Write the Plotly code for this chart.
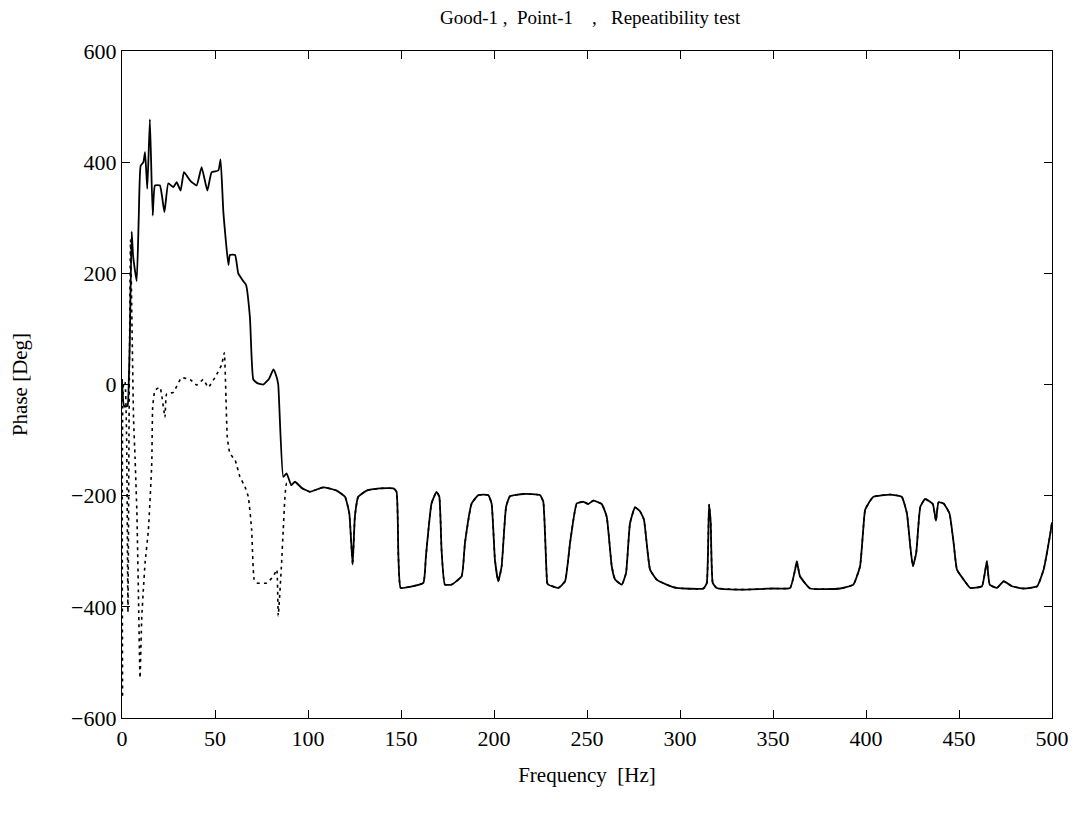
import plotly.graph_objects as go

# === Data ===
# Early part (0-90 Hz), the two measurements differ
freq_run1 = [0, 0.8, 1.5, 3.0, 3.6, 4.2, 5.2, 6.0, 7.9, 9.0, 10.0, 11.5, 12.4, 13.6,
             15.0, 16.5, 17.7, 20.4, 22.8, 24.9, 27.6, 29.4, 31.5, 33.3, 36.6, 40.1,
             42.8, 45.9, 48.2, 51.8, 53.0, 54.5, 57.2, 58.0, 60.8, 62.5, 65.2, 66.7,
             68.8, 70.6, 73.0, 76.0, 79.0, 81.4, 83.0, 84.0, 86.7, 88.5]
phase_run1 = [10, -35, -40, -38, 0, 80, 275, 230, 186, 300, 393, 400, 418, 352,
              477, 304, 358, 358, 310, 362, 355, 364, 349, 382, 367, 358,
              391, 349, 382, 385, 405, 310, 215, 233, 233, 200, 186, 179,
              120, 9, 2, 0, 10, 27, 15, 0, -166, -160]

freq_run2 = [0.3, 0.8, 1.6, 2.5, 3.2, 3.8, 4.6, 5.4, 6.2, 7.0, 8.0, 8.8, 9.7, 10.6,
             11.5, 12.4, 14.2, 16.0, 16.5, 17.7, 20.4, 23.1, 24.0, 27.6, 32.0, 36.6,
             40.1, 43.7, 46.4, 50.9, 53.6, 55.0, 55.9, 56.6, 58.0, 60.8, 63.4, 66.1,
             67.9, 69.7, 71.0, 72.4, 77.8, 81.4, 83.2, 84.0, 85.8, 86.7, 88.5]
phase_run2 = [-560, 0, 5, -100, -410, -60, 260, 100, -60, -130, -230, -370, -528, -420,
              -368, -321, -261, -142, -41, -11, -5, -59, -17, -14, 12, 9,
              -1, 9, -5, 18, 36, 57, -23, -95, -124, -136, -166, -184,
              -202, -261, -350, -357, -357, -345, -333, -416, -321, -261, -178]

# Common part (90-500 Hz), both runs lie on top of each other
freq_common = [91.0, 93.0, 96.6, 101.0, 108.2, 115.4, 119.9, 122.2, 124.0, 125.2, 127.0,
               131.5, 138.7, 145.9, 147.6, 148.6, 149.8, 154.8, 162.0, 163.4, 166.4,
               169.1, 170.6, 171.8, 173.6, 177.2, 182.6, 184.4, 188.0, 191.6, 196.9,
               198.7, 200.5, 202.3, 204.1, 206.5, 208.6, 215.8, 224.7, 226.5, 228.6,
               229.2, 234.6, 238.2, 240.9, 244.5, 248.1, 250.7, 253.4, 257.9, 260.6,
               263.3, 265.1, 268.7, 271.0, 273.1, 275.8, 278.5, 280.6, 283.9, 287.5,
               292.8, 298.2, 312.6, 314.4, 315.6, 316.5, 317.6, 319.7, 332.3, 350.2,
               359.2, 361.9, 362.8, 364.5, 370.0, 386.1, 393.2, 396.8, 399.5, 401.3,
               404.0, 413.0, 419.2, 422.0, 423.8, 425.2, 427.0, 429.2, 431.8, 435.9,
               437.6, 439.0, 441.7, 444.9, 447.1, 448.9, 452.5, 456.1, 462.3, 465.0,
               466.5, 470.4, 474.0, 478.5, 484.8, 492.0, 495.5, 499.1, 500.0]
phase_common = [-181, -175, -186, -193, -185, -191, -202, -232, -324, -238, -202,
                -191, -187, -187, -193, -309, -366, -364, -357, -309, -214,
                -193, -202, -297, -360, -360, -345, -285, -214, -199, -199,
                -214, -315, -354, -327, -220, -201, -197, -199, -211, -357,
                -360, -366, -354, -285, -214, -211, -215, -209, -215, -238,
                -327, -351, -360, -339, -250, -221, -228, -243, -333, -351,
                -360, -366, -367, -357, -216, -248, -357, -366, -369, -367,
                -366, -333, -318, -345, -367, -367, -360, -327, -226, -214,
                -202, -198, -202, -232, -291, -327, -303, -220, -206, -215,
                -245, -212, -214, -232, -285, -333, -351, -366, -363, -318,
                -360, -366, -354, -363, -367, -363, -333, -268, -248]

x_ticks = [0, 50, 100, 150, 200, 250, 300, 350, 400, 450, 500]
y_ticks = [-600, -400, -200, 0, 200, 400, 600]

serif = "Liberation Serif, Times New Roman, serif"

fig = go.Figure()
fig.add_trace(go.Scatter(
    x=freq_run2 + freq_common, y=phase_run2 + phase_common,
    mode="lines", line=dict(color="black", width=1.6, dash="3px,4px",
                            shape="spline", smoothing=0.4),
    showlegend=False,
))
fig.add_trace(go.Scatter(
    x=freq_run1 + freq_common, y=phase_run1 + phase_common,
    mode="lines", line=dict(color="black", width=1.8, shape="spline", smoothing=0.4),
    showlegend=False,
))

axis_style = dict(
    showline=True, linecolor="black", linewidth=1.2, mirror="ticks",
    ticks="inside", ticklen=8, tickcolor="black", tickwidth=1.2,
    showgrid=False, zeroline=False, automargin=False,
    tickfont=dict(family=serif, size=22, color="black"),
)

# the page has an 8px body margin, so the figure is a bit smaller than the window
fig.update_layout(
    width=1072, height=802,
    paper_bgcolor="white", plot_bgcolor="white",
    margin=dict(l=114, r=28, t=43, b=92),
    title=dict(text="Good-1\u00a0,\u00a0\u00a0Point-1\u00a0\u00a0\u00a0\u00a0,\u00a0\u00a0\u00a0Repeatibility test",
               x=0.543, xanchor="center", y=0.988, yanchor="middle",
               font=dict(family=serif, size=19, color="black")),
    xaxis=dict(axis_style, range=[0, 500], tickvals=x_ticks,
               title=dict(text="Frequency\u00a0\u00a0[Hz]", standoff=17,
                          font=dict(family=serif, size=21, color="black"))),
    yaxis=dict(axis_style, range=[-600, 600], tickvals=y_ticks,
               title=dict(text="Phase [Deg]", standoff=52,
                          font=dict(family=serif, size=21, color="black"))),
)

fig.write_html("out.html")
